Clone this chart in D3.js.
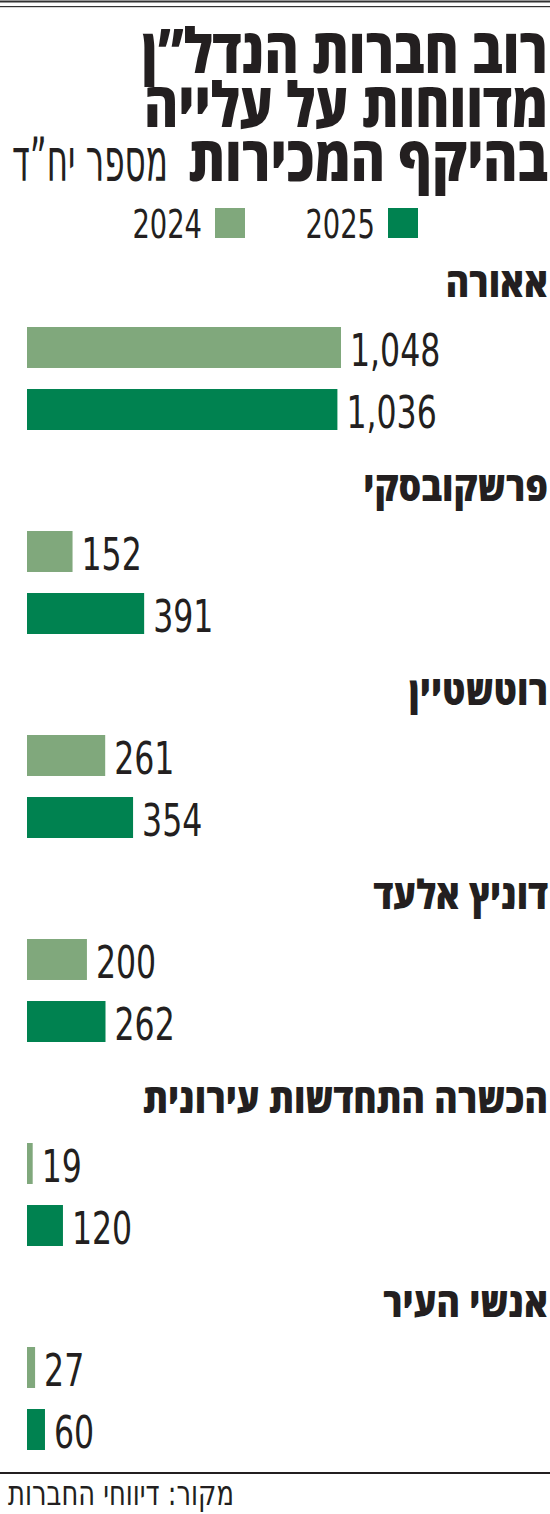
<!DOCTYPE html>
<html lang="he">

<head>
    <meta charset="UTF-8">
    <title>רוב חברות הנדל”ן מדווחות על עלייה</title>

    <script src="https://d3js.org/d3.v7.min.js"></script>

    <style>
        body {
            margin: 0;
            background: #ffffff;
        }

        .heavy {
            font-family: 'Open Sans', 'Liberation Sans', sans-serif;
            font-weight: 800;
            fill: #231f20;
        }

        .light {
            font-family: 'Liberation Sans Narrow', 'DejaVu Sans Condensed', 'Liberation Sans', sans-serif;
            font-weight: 400;
            fill: #231f20;
        }
    </style>
</head>

<body>
    <svg width="550" height="1514"></svg>

    <script>
        // data
        const companies = ["אאורה", "פרשקובסקי", "רוטשטיין", "דוניץ אלעד", "הכשרה התחדשות עירונית", "אנשי העיר"];
        const values2024 = [1048, 152, 261, 200, 19, 27];
        const values2025 = [1036, 391, 354, 262, 120, 60];
        const years = ["2024", "2025"];
        const yearColors = ["#80a87c", "#008250"];

        const titleLines = ["רוב חברות הנדל”ן", "מדווחות על עלייה", "בהיקף המכירות"];
        const unitText = "מספר יח”ד";
        const sourceText = "מקור: דיווחי החברות";

        const width = 550;
        const svg = d3.select("svg");
        const ink = "#231f20";
        const numSqueeze = 0.78;

        const rows = companies.map((c, i) => ({ name: c, values: [values2024[i], values2025[i]] }));

        // scales
        const x = d3.scaleLinear()
            .domain([0, d3.max(values2024.concat(values2025))])
            .range([27, 341]);

        const yGroup = d3.scaleBand()
            .domain(companies)
            .range([270, 270 + 204 * companies.length]);

        const yYear = d3.scaleBand()
            .domain(years)
            .range([57, 160])
            .paddingInner(0.339);

        const color = d3.scaleOrdinal().domain(years).range(yearColors);
        const fmt = d3.format(",");

        // squeeze a text horizontally so it spans a given width
        function fitWidth(sel, w) {
            const bw = sel.node().getBBox().width;
            sel.attr("transform", `scale(${w / bw},1)`);
        }

        // top rules
        svg.append("rect").attr("x", 0).attr("y", 0.5).attr("width", width).attr("height", 2).attr("fill", "#333");
        svg.append("rect").attr("x", 0).attr("y", 6).attr("width", width).attr("height", 1.2).attr("fill", "#333");

        // title, one text block with a line per tspan
        const title = svg.append("g").attr("transform", "translate(548,73)")
            .append("text")
            .attr("class", "heavy")
            .attr("direction", "rtl")
            .attr("text-anchor", "start")
            .attr("font-size", 62);

        const titleSpans = title.selectAll("tspan")
            .data(titleLines)
            .join("tspan")
            .attr("x", 0)
            .attr("dy", (d, i) => i === 0 ? 0 : 54)
            .text(d => d);

        const titleScale = 406 / titleSpans.node().getComputedTextLength();
        title.attr("transform", `scale(${titleScale},1)`);

        const unit = svg.append("g").attr("transform", "translate(12,181)")
            .append("text")
            .attr("class", "light")
            .attr("direction", "rtl")
            .attr("text-anchor", "end")
            .attr("font-size", 60)
            .text(unitText);
        fitWidth(unit, 156);

        // legend
        const legend = svg.append("g").selectAll("g")
            .data(years)
            .join("g")
            .attr("transform", (d, i) => `translate(${245 + 173 * i},208)`);

        legend.append("rect")
            .attr("x", -30).attr("y", 0)
            .attr("width", 30).attr("height", 30)
            .attr("fill", d => color(d));

        legend.append("g")
            .attr("transform", "translate(-43,30)")
            .append("text")
            .attr("class", "light")
            .attr("text-anchor", "end")
            .attr("font-size", 39)
            .attr("transform", `scale(${numSqueeze},1)`)
            .text(d => d);

        // groups
        const groups = svg.append("g").selectAll("g")
            .data(rows)
            .join("g")
            .attr("transform", d => `translate(0,${yGroup(d.name)})`);

        const labels = groups.append("g")
            .attr("transform", "translate(548,27)")
            .append("text")
            .attr("class", "heavy")
            .attr("direction", "rtl")
            .attr("text-anchor", "start")
            .attr("font-size", 40)
            .text(d => d.name);

        const labelScale = 405 / d3.max(labels.nodes(), n => n.getBBox().width);
        labels.attr("transform", `scale(${labelScale},1)`);

        const bars = groups.selectAll(".bar")
            .data(d => d.values.map((v, i) => ({ year: years[i], value: v })))
            .join("g")
            .attr("class", "bar");

        bars.append("rect")
            .attr("x", x(0))
            .attr("y", d => yYear(d.year))
            .attr("width", d => x(d.value) - x(0))
            .attr("height", yYear.bandwidth())
            .attr("fill", d => color(d.year));

        bars.append("g")
            .attr("transform", d => `translate(${x(d.value) + 9},${yYear(d.year) + yYear.bandwidth() - 2})`)
            .append("text")
            .attr("class", "light")
            .attr("font-size", 45)
            .attr("transform", `scale(${numSqueeze},1)`)
            .text(d => fmt(d.value));

        // footer
        svg.append("rect").attr("x", 0).attr("y", 1472).attr("width", width).attr("height", 2).attr("fill", ink);

        const source = svg.append("g").attr("transform", "translate(8,1505)")
            .append("text")
            .attr("class", "light")
            .attr("direction", "rtl")
            .attr("text-anchor", "end")
            .attr("font-size", 34)
            .text(sourceText);
        fitWidth(source, 226);
    </script>
</body>

</html>
